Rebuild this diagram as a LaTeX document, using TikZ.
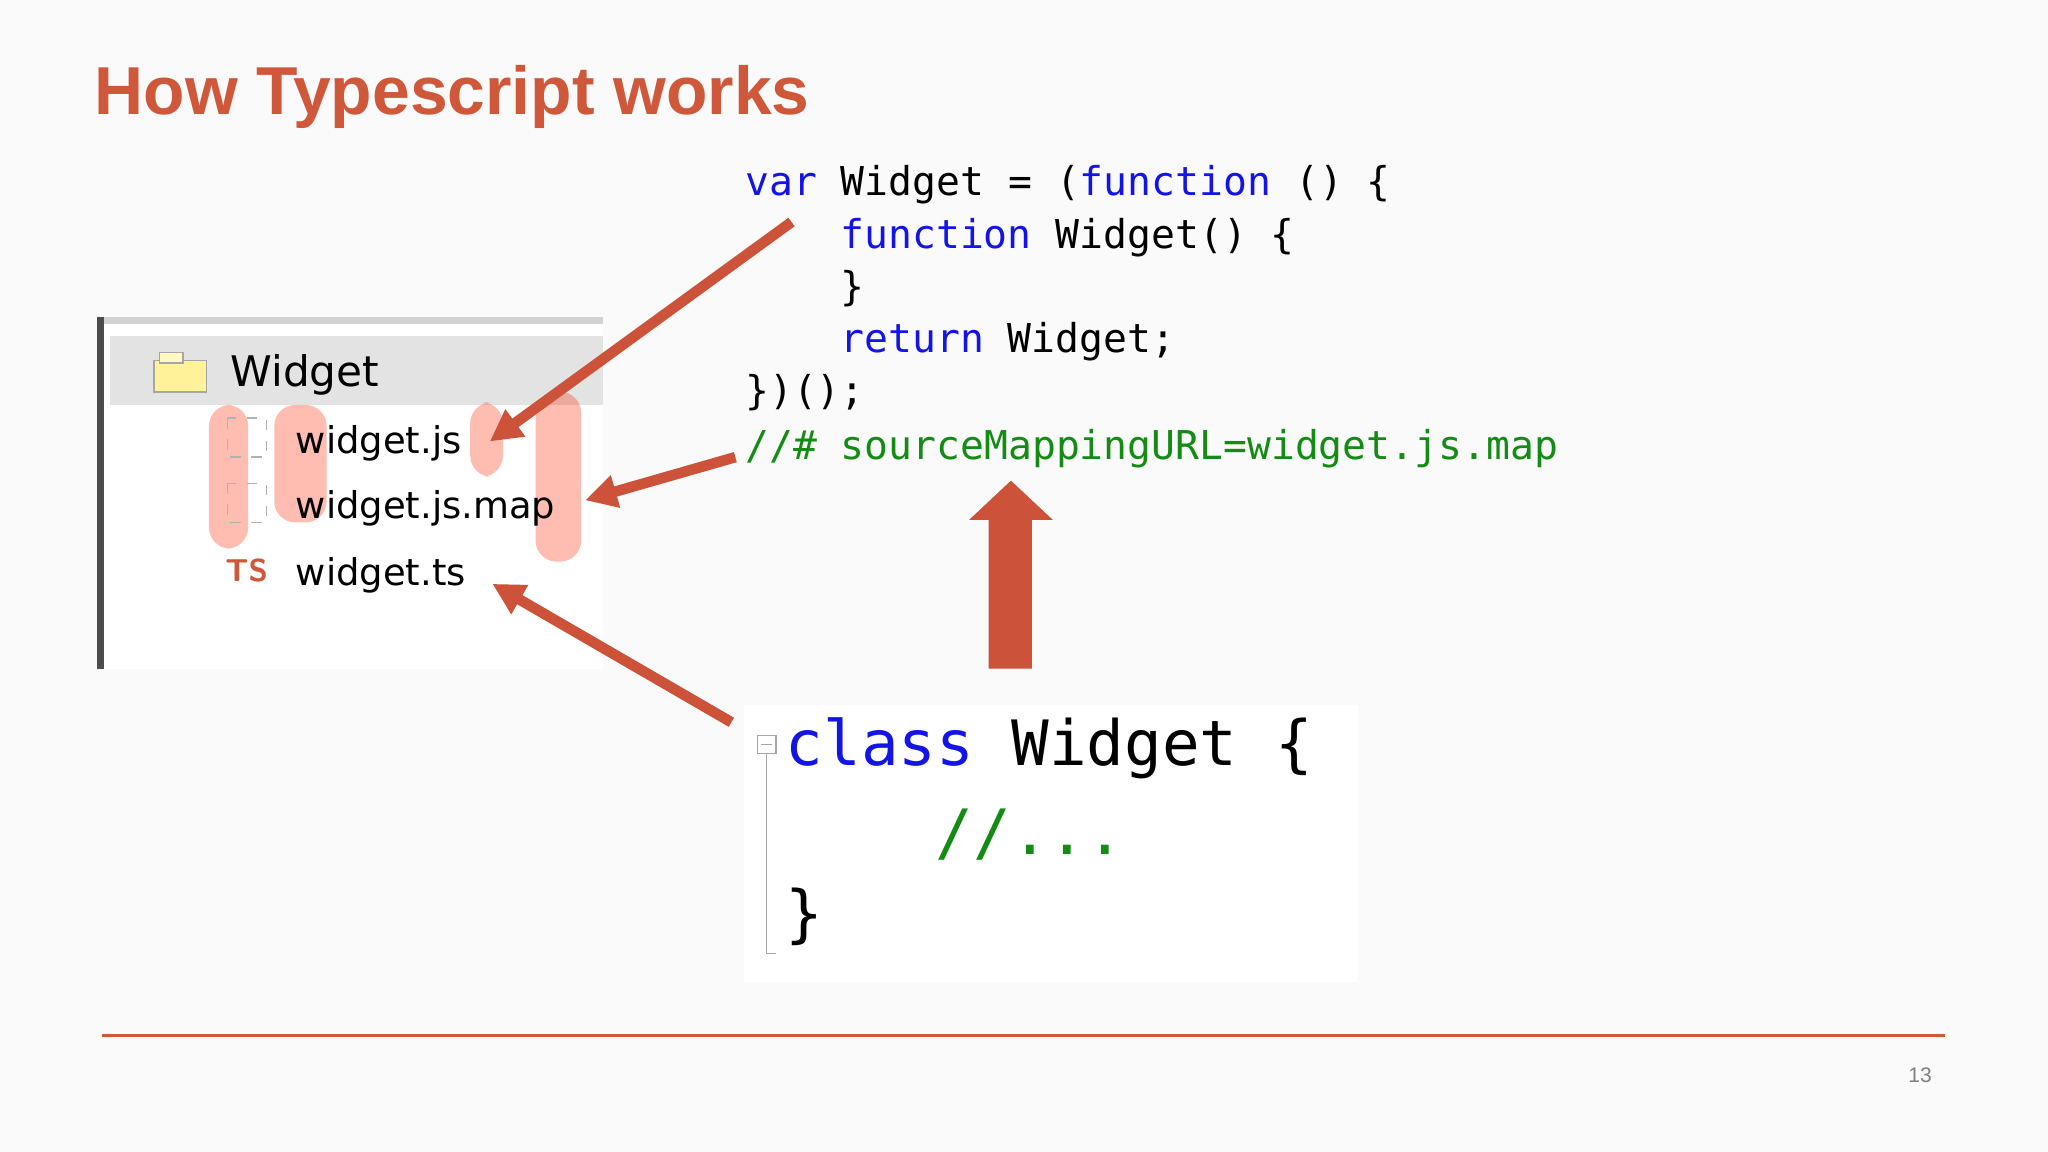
\documentclass[tikz,border=0pt]{standalone}
\usepackage{fontspec}
\setmainfont{Liberation Sans}
\newfontfamily\codefont{DejaVu Sans Mono}
\newfontfamily\uifont{DejaVu Sans}
\usetikzlibrary{arrows.meta, positioning, calc, shapes.arrows}
\definecolor{accent}{RGB}{208,88,58}
\definecolor{kw}{RGB}{20,20,230}
\definecolor{cmt}{RGB}{20,140,20}
\definecolor{arrowred}{RGB}{204,82,58}

\begin{document}
\begin{tikzpicture}[
    x=0.01306cm, y=-0.01306cm,
    code/.style={anchor=base west, inner sep=0pt, font=\codefont\fontsize{11.3}{13}\selectfont},
    bigcode/.style={anchor=base west, inner sep=0pt, font=\codefont\fontsize{17.8}{20}\selectfont},
    file/.style={anchor=base west, inner sep=0pt, font=\uifont\fontsize{10.5}{12}\selectfont},
    glow/.style={fill=red!70!orange, opacity=0.3, rounded corners=6pt},
    arrow/.style={-{Triangle[length=9pt,width=9pt]}, line width=3pt, arrowred}
]
    % background and frame
    \fill[gray!4] (0,0) rectangle (1568,882);
    \useasboundingbox (0,0) rectangle (1568,882);

    % title
    \node[anchor=base west, inner sep=0pt, text=accent, font=\bfseries\fontsize{19.3}{23}\selectfont] (title) at (72,88) {How Typescript works};

    % solution explorer
    \fill[white] (80,248) rectangle (462,512);
    \fill[gray!35] (74,243) rectangle (462,248);
    \fill[black!70] (74,243) rectangle (80,512);
    \fill[gray!22] (84,257) rectangle (462,310);
    \fill[orange!25!yellow!40, draw=gray!70] (118,276) rectangle (158,300);
    \fill[orange!15!yellow!25, draw=gray!70] (122,270) rectangle (140,278);

    \begin{scope}[on background layer/.style={}]
    \fill[glow] (160,310) rectangle (190,420);
    \fill[glow] (210,310) rectangle (250,400);
    \fill[glow] (360,308) rectangle (385,365);
    \fill[glow] (410,300) rectangle (445,430);
    \end{scope}
    \node[file, font=\uifont\fontsize{12}{14}\selectfont] (folder) at (176,296) {Widget};
    \draw[gray!60, dashed] (174,320) rectangle (204,350);
    \draw[gray!60, dashed] (174,370) rectangle (204,400);
    \node[file] (js) at (226,347) {widget.js};
    \node[file] (map) at (226,397) {widget.js.map};
    \node[anchor=base west, inner sep=0pt, text=accent, font=\bfseries\sffamily\fontsize{9}{10}\selectfont] (tsicon) at (172,445) {TS};
    \node[file] (ts) at (226,448) {widget.ts};

    % compiled javascript
    \node[code] (l1) at (570,150) {\textcolor{kw}{var} Widget = (\textcolor{kw}{function} () \{};
    \node[code] (l2) at (643,190) {\textcolor{kw}{function} Widget() \{};
    \node[code] (l3) at (643,230) {\}};
    \node[code] (l4) at (643,270) {\textcolor{kw}{return} Widget;};
    \node[code] (l5) at (570,310) {\})();};
    \node[code, text=cmt] (l6) at (570,352) {//\# sourceMappingURL=widget.js.map};

    % typescript source
    \fill[white] (570,540) rectangle (1040,752);
    \draw[gray!70] (580,563) rectangle (594,577);
    \draw[gray!70] (583,570) -- (591,570);
    \draw[gray!70] (587,577) -- (587,730) -- (594,730);
    \node[bigcode] (c1) at (601,586) {\textcolor{kw}{class} Widget \{};
    \node[bigcode, text=cmt] (c2) at (716,654) {//...};
    \node[bigcode] (c3) at (601,716) {\}};

    % arrows
    \coordinate (a1) at (606,170);
    \coordinate (a2) at (563,350);
    \coordinate (a3) at (560,553);
    \coordinate (t1) at (375,338);
    \coordinate (t2) at (448,383);
    \coordinate (t3) at (377,447);
    \draw[arrow] (a1) -- (t1);
    \draw[arrow] (a2) -- (t2);
    \draw[arrow] (a3) -- (t3);
    \fill[arrowred] (757,512) -- (757,398) -- (742,398) -- (774,368) -- (806,398) -- (790,398) -- (790,512) -- cycle;

    % footer
    \draw[accent, line width=0.8pt] (78,793) -- (1489,793);
    \node[text=gray, font=\fontsize{6}{7}\selectfont] (page) at (1470,823) {13};
\end{tikzpicture}
\end{document}
